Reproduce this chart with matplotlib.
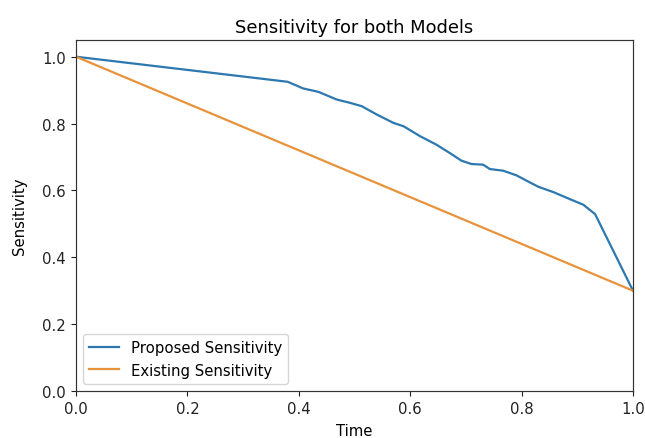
import matplotlib
matplotlib.use("Agg")
import matplotlib.pyplot as plt

# values
timeProposed = [0.0, 0.38, 0.408, 0.435, 0.468, 0.492, 0.513, 0.540, 0.570, 0.588,
                0.618, 0.647, 0.671, 0.692, 0.710, 0.731, 0.743, 0.767, 0.791, 0.809,
                0.830, 0.857, 0.881, 0.911, 0.932, 1.0]
sensProposed = [1.0, 0.925, 0.905, 0.895, 0.872, 0.862, 0.852, 0.827, 0.802, 0.792,
                0.762, 0.737, 0.712, 0.689, 0.679, 0.677, 0.664, 0.659, 0.645, 0.629,
                0.611, 0.595, 0.578, 0.557, 0.529, 0.30]
timeExisting = [0.0, 1.0]
sensExisting = [1.0, 0.30]

k = 1.07  # scale of the screenshot relative to default sizes

fig = plt.figure(figsize=(6.45, 4.39), dpi=100)
ax = fig.add_axes([76/645, 47/439, 557/645, 351/439])

ax.plot(timeProposed, sensProposed, color="#2d78ae", linewidth=1.5*k, label="Proposed Sensitivity")
ax.plot(timeExisting, sensExisting, color="#e8923c", linewidth=1.5*k, label="Existing Sensitivity")

ax.set_xlim(0, 1)
ax.set_ylim(0, 1.05)
ax.set_title("Sensitivity for both Models", fontsize=12*k)
ax.set_xlabel("Time", fontsize=10*k, labelpad=5)
ax.set_ylabel("Sensitivity", fontsize=10*k, labelpad=11)
ax.tick_params(labelsize=10*k, length=3.5*k, colors="#222222")
for s in ax.spines.values():
    s.set_linewidth(0.8*k)
    s.set_color("#333333")
ax.legend(loc="lower left", fontsize=10*k)

fig.savefig("out.png", dpi=100)
